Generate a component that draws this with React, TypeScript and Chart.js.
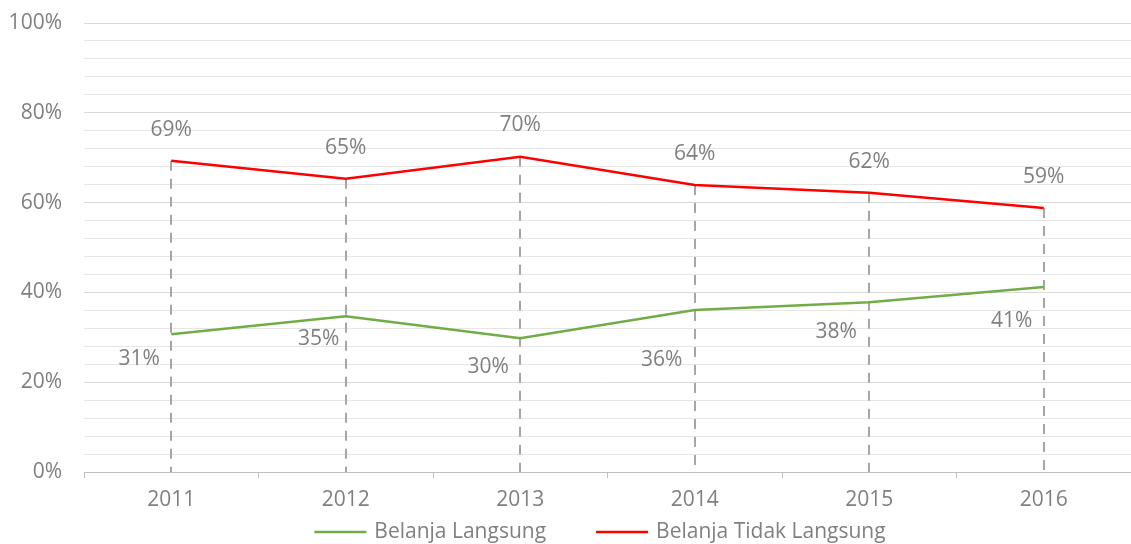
import React, { useEffect, useRef } from "react";
import { Chart, registerables } from "chart.js";

Chart.register(...registerables);

const categories = ["2011", "2012", "2013", "2014", "2015", "2016"];
const belanjaLangsung = [30.7, 34.7, 29.8, 36.1, 37.8, 41.2];
const belanjaTidakLangsung = [69.3, 65.3, 70.2, 63.9, 62.2, 58.8];
const labelsLangsung = ["31%", "35%", "30%", "36%", "38%", "41%"];
const labelsTidakLangsung = ["69%", "65%", "70%", "64%", "62%", "59%"];
const seriesNames = ["Belanja Langsung", "Belanja Tidak Langsung"];
const seriesColors = ["#70ad47", "#ff0000"];

const FONT = "'Open Sans', sans-serif";
const TEXT = "#808080";
const FONT_SIZE = 21;

// label placement (style only)
const greenLabelOffsets = [
  [-32, 25],
  [-27, 23],
  [-32, 29],
  [-33, 50],
  [-33, 30],
  [-32, 34],
];
const redLabelOffsets = [
  [0, -31],
  [0, -31],
  [0, -32],
  [0, -31],
  [0, -31],
  [0, -31],
];

const dropLinesPlugin = {
  id: "dropLines",
  beforeDatasetsDraw(chart: any) {
    const { ctx, chartArea } = chart;
    const metas = chart.data.datasets.map((_: any, i: number) => chart.getDatasetMeta(i));
    ctx.save();
    ctx.strokeStyle = "#a6a6a6";
    ctx.lineWidth = 2;
    ctx.setLineDash([10, 8]);
    for (let i = 0; i < categories.length; i++) {
      let top = Infinity;
      let x = 0;
      metas.forEach((m: any) => {
        const p = m.data[i];
        if (p.y < top) top = p.y;
        x = p.x;
      });
      ctx.beginPath();
      ctx.moveTo(Math.round(x), top);
      ctx.lineTo(Math.round(x), chartArea.bottom);
      ctx.stroke();
    }
    ctx.restore();
  },
};

const dataLabelsPlugin = {
  id: "dataLabelsCustom",
  afterDatasetsDraw(chart: any) {
    const { ctx } = chart;
    ctx.save();
    ctx.font = `${FONT_SIZE}px ${FONT}`;
    ctx.fillStyle = TEXT;
    ctx.textAlign = "center";
    ctx.textBaseline = "middle";
    const sets = [
      { labels: labelsLangsung, offsets: greenLabelOffsets },
      { labels: labelsTidakLangsung, offsets: redLabelOffsets },
    ];
    sets.forEach((s, di) => {
      const meta = chart.getDatasetMeta(di);
      meta.data.forEach((p: any, i: number) => {
        ctx.fillText(s.labels[i], p.x + s.offsets[i][0], p.y + s.offsets[i][1]);
      });
    });
    ctx.restore();
  },
};

const legendPlugin = {
  id: "customLegend",
  afterDraw(chart: any) {
    const { ctx } = chart;
    ctx.save();
    ctx.font = `${FONT_SIZE}px ${FONT}`;
    ctx.textBaseline = "middle";
    ctx.textAlign = "left";
    const lineW = 52;
    const gapText = 8;
    const gapItems = 50;
    const widths = seriesNames.map((n) => lineW + gapText + ctx.measureText(n).width);
    const total = widths.reduce((a, b) => a + b, 0) + gapItems * (seriesNames.length - 1);
    let x = 600 - total / 2;
    const y = 532;
    seriesNames.forEach((n, i) => {
      ctx.strokeStyle = seriesColors[i];
      ctx.lineWidth = 2.5;
      ctx.beginPath();
      ctx.moveTo(x, y);
      ctx.lineTo(x + lineW, y);
      ctx.stroke();
      ctx.fillStyle = TEXT;
      ctx.fillText(n, x + lineW + gapText, y);
      x += widths[i] + gapItems;
    });
    ctx.restore();
  },
};

export default function App() {
  const ref = useRef<HTMLCanvasElement>(null);
  useEffect(() => {
    if (!ref.current) return;
    const chart = new Chart(ref.current, {
      type: "line",
      data: {
        labels: categories,
        datasets: [
          {
            label: seriesNames[0],
            data: belanjaLangsung,
            borderColor: seriesColors[0],
            backgroundColor: seriesColors[0],
            borderWidth: 2.5,
            pointRadius: 0,
            tension: 0,
          },
          {
            label: seriesNames[1],
            data: belanjaTidakLangsung,
            borderColor: seriesColors[1],
            backgroundColor: seriesColors[1],
            borderWidth: 2.5,
            pointRadius: 0,
            tension: 0,
          },
        ],
      },
      options: {
        animation: false,
        responsive: false,
        maintainAspectRatio: false,
        layout: { padding: { top: 23, right: 0, left: 0, bottom: 32 } },
        plugins: {
          tooltip: { enabled: false },
          legend: { display: false },
        },
        scales: {
          x: {
            offset: true,
            afterFit(scale: any) {
              scale.height = 40;
              scale.paddingLeft = 0;
              scale.paddingRight = 0;
            },
            grid: {
              offset: true,
              drawOnChartArea: false,
              drawTicks: true,
              tickLength: 6,
              color: "#bfbfbf",
            },
            border: { color: "#bfbfbf", width: 1 },
            ticks: {
              color: TEXT,
              padding: 9,
              font: { family: FONT, size: FONT_SIZE },
            },
          },
          y: {
            min: 0,
            max: 100,
            afterFit(scale: any) {
              scale.width = 84;
              scale.paddingTop = 0;
              scale.paddingBottom = 0;
            },
            border: { display: false },
            grid: {
              drawTicks: false,
              color: (c: any) => (c.tick && c.tick.value % 20 === 0 ? "#d9d9d9" : "#e6e6e6"),
              lineWidth: 1,
            },
            ticks: {
              stepSize: 4,
              autoSkip: false,
              padding: 22,
              color: TEXT,
              font: { family: FONT, size: FONT_SIZE },
              callback: (v: any) => (Number(v) % 20 === 0 ? `${v}%` : ""),
            },
          },
        },
      },
      plugins: [dropLinesPlugin, dataLabelsPlugin, legendPlugin],
    });
    return () => chart.destroy();
  }, []);
  return (
    <div style={{ position: "fixed", left: 0, top: 0, width: 1131, height: 544, background: "#fff" }}>
      <canvas ref={ref} width={1131} height={544} style={{ display: "block" }} />
    </div>
  );
}
